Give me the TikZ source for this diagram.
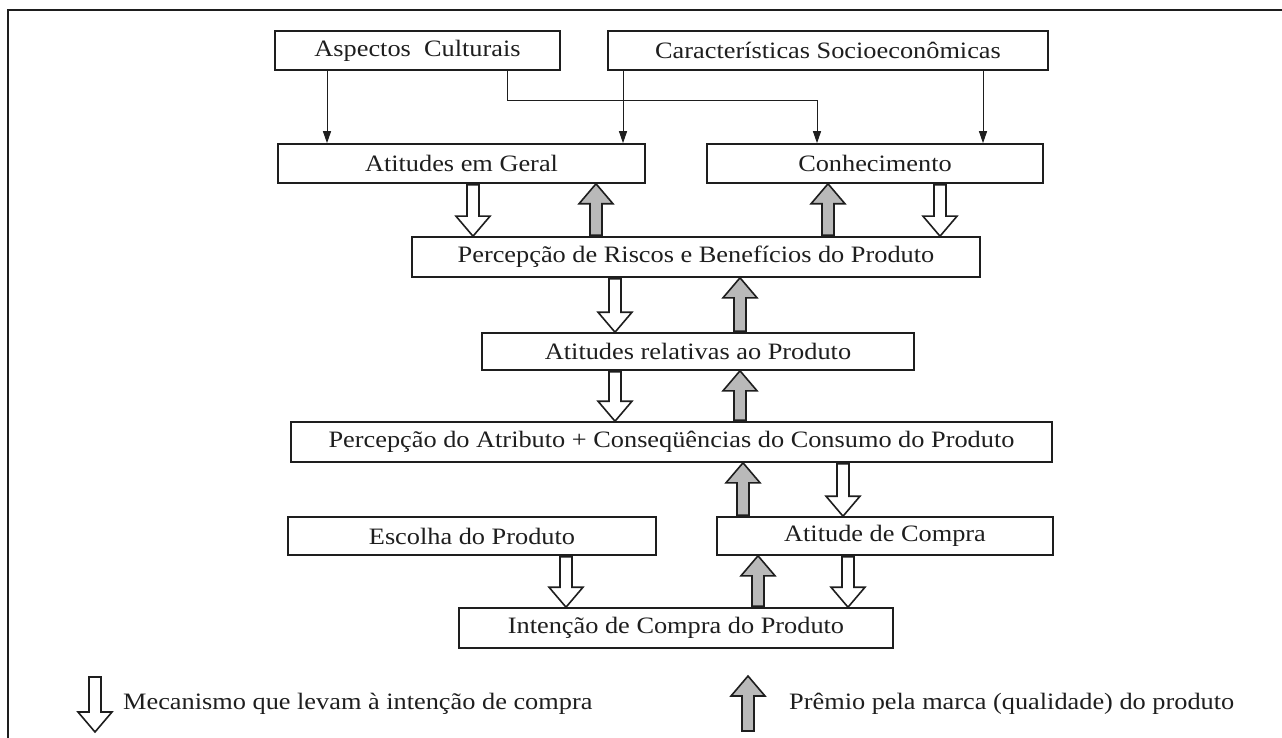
\documentclass[tikz,border=0pt]{standalone}
\usepackage{fontspec}
\setmainfont[FakeStretch=1.12]{Liberation Serif}
\usepackage{xcolor}
\usetikzlibrary{arrows.meta,calc}

\definecolor{inkgray}{HTML}{1E1E1E}
\definecolor{upgray}{HTML}{B9B9B9}

\newcommand{\blockdown}[3]{%
  \draw[blockarrow,fill=white] let \p1=(#1,0), \p2=#2, \p3=#3 in
    (\x1-6pt,\y2-1pt) -- (\x1-6pt,\y3+20pt) -- (\x1-17pt,\y3+20pt) -- (\x1,\y3)
    -- (\x1+17pt,\y3+20pt) -- (\x1+6pt,\y3+20pt) -- (\x1+6pt,\y2-1pt) -- cycle;}
\newcommand{\blockup}[3]{%
  \draw[blockarrow,fill=upgray] let \p1=(#1,0), \p2=#2, \p3=#3 in
    (\x1-6pt,\y2+1pt) -- (\x1-6pt,\y3-20pt) -- (\x1-17pt,\y3-20pt) -- (\x1,\y3)
    -- (\x1+17pt,\y3-20pt) -- (\x1+6pt,\y3-20pt) -- (\x1+6pt,\y2+1pt) -- cycle;}

\begin{document}
\begin{tikzpicture}[
        x=1pt, y=-1pt,
        box/.style={draw=inkgray, line width=1.6pt, inner sep=0pt,
            minimum height=39pt, text=inkgray,
            font=\fontsize{23.5}{28}\selectfont},
        legend/.style={anchor=west, inner sep=0pt, text=inkgray,
            font=\fontsize{23.5}{28}\selectfont},
        thinarrow/.style={draw=inkgray, line width=1pt,
            -{Triangle[length=12pt,width=8pt]}},
        blockarrow/.style={draw=inkgray, line width=1.6pt, line join=miter}
      ]
      \useasboundingbox (0,0) rectangle (1282,738);
      \draw[inkgray, line width=1.5pt] (8,738) -- (8,10) -- (1282,10);

      \node[box, minimum width=285pt] (aspectos) at (417.5,50.5) {Aspectos~~Culturais};
      \node[box, minimum width=440pt] (socio) at (828,50.5) {Características Socioeconômicas};
      \node[box, minimum width=367pt] (geral) at (461.5,163.5) {Atitudes em Geral};
      \node[box, minimum width=336pt] (conhec) at (875,163.5) {Conhecimento};
      \node[box, minimum width=568pt, minimum height=40pt] (riscos) at (696,257) {Percepção de Riscos e Benefícios do Produto};
      \node[box, minimum width=432pt, minimum height=37pt] (relativas) at (698,351.5) {Atitudes relativas ao Produto};
      \node[box, minimum width=761pt, minimum height=40pt] (atributo) at (671.5,442) {Percepção do Atributo + Conseqüências do Consumo do Produto};
      \node[box, minimum width=368pt, minimum height=38pt] (escolha) at (472,536) {Escolha do Produto};
      \node[box, minimum width=336pt, minimum height=38pt] (compra) at (885,536) {Atitude de Compra};
      \node[box, minimum width=434pt, minimum height=40pt] (intencao) at (676,628) {Intenção de Compra do Produto};

      \draw[thinarrow] (aspectos.south -| 327,0) -- (geral.north -| 327,0);
      \draw[thinarrow] (aspectos.south -| 507,0) -- (507,101) -| (conhec.north -| 817,0);
      \draw[thinarrow] (socio.south -| 623,0) -- (geral.north -| 623,0);
      \draw[thinarrow] (socio.south -| 983,0) -- (conhec.north -| 983,0);

      \blockdown{473}{(geral.south)}{(riscos.north)}
      \blockup{596}{(riscos.north)}{(geral.south)}
      \blockup{828}{(riscos.north)}{(conhec.south)}
      \blockdown{940}{(conhec.south)}{(riscos.north)}

      \blockdown{615}{(riscos.south)}{(relativas.north)}
      \blockup{740}{(relativas.north)}{(riscos.south)}

      \blockdown{615}{(relativas.south)}{(atributo.north)}
      \blockup{740}{(atributo.north)}{(relativas.south)}

      \blockup{743}{(compra.north)}{(atributo.south)}
      \blockdown{843}{(atributo.south)}{(compra.north)}

      \blockdown{566}{(escolha.south)}{(intencao.north)}
      \blockup{758}{(intencao.north)}{(compra.south)}
      \blockdown{848}{(compra.south)}{(intencao.north)}

      \coordinate (legtop) at (95,676);
      \coordinate (legbot) at (95,732);
      \coordinate (premtop) at (748,676);
      \coordinate (prembot) at (748,732);
      \blockdown{95}{(legtop)}{(legbot)}
      \blockup{748}{(prembot)}{(premtop)}
      \node[legend] (legmec) at (123,704) {Mecanismo que levam à intenção de compra};
      \node[legend] (legprem) at (789,704) {Prêmio pela marca (qualidade) do produto};
    \end{tikzpicture}
\end{document}
